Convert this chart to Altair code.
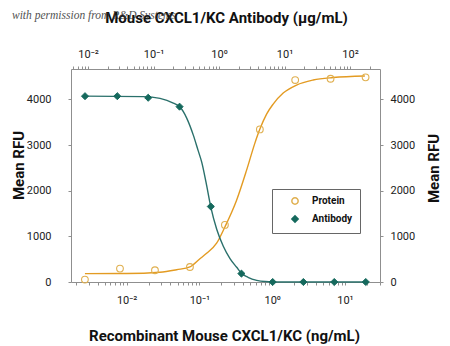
import altair as alt
import pandas as pd

# ---------------- data ----------------
series_names = ["Protein", "Antibody"]

# Recombinant Mouse CXCL1/KC, ng/mL (bottom axis)
protein_conc = [0.00267, 0.0081, 0.0245, 0.0741, 0.224, 0.677, 2.07, 6.34, 19.2]
protein_rfu = [53, 294, 257, 329, 1250, 3342, 4423, 4452, 4482]
protein_fit_conc = [0.002674, 0.01, 0.02867, 0.04862, 0.07406, 0.1016, 0.1256, 0.1723,
                    0.2240, 0.3243, 0.4451, 0.5786, 0.6776, 0.8377, 1.032, 1.416,
                    2.164, 3.658, 6.886, 18.77]
protein_fit_rfu = [184, 186, 213, 268, 329, 509, 629, 849, 1206, 1792, 2450, 3042,
                   3349, 3678, 3897, 4138, 4314, 4423, 4478, 4511]

# Mouse CXCL1/KC Antibody, ug/mL (top axis)
antibody_conc = [0.009, 0.028, 0.083, 0.25, 0.75, 2.2, 6.6, 19.4, 57.5, 174]
antibody_rfu = [4070, 4070, 4035, 3840, 1653, 184, 0, 0, 0, 0]
antibody_fit_conc = [0.009, 0.0699, 0.1257, 0.2006, 0.2538, 0.3212, 0.4052, 0.4779,
                     0.5444, 0.6331, 0.7468, 0.9223, 1.163, 1.472, 1.863, 2.222,
                     2.772, 3.763, 5.039, 8.54, 173.6]
antibody_fit_rfu = [4072, 4061, 4022, 3919, 3831, 3590, 3217, 2888, 2625, 2186, 1653,
                    1156, 783, 513, 322, 184, 103, 37, 11, 0, 0]

y_ticks = [0, 1000, 2000, 3000, 4000]
bottom_domain = [0.00172, 30.3]
top_domain = [0.0055, 287]
decades = [-3, -2, -1, 0, 1, 2]
minor_steps = [1, 2, 3, 4, 5, 6, 7, 8, 9]
superscripts = {-3: "10⁻³", -2: "10⁻²", -1: "10⁻¹", 0: "10⁰", 1: "10¹", 2: "10²"}
watermark = "with permission from R&D Systems"

# ---------------- styling ----------------
ORANGE_LINE = "#E39B22"
ORANGE_PT = "#E0B050"
GREEN_LINE = "#2A706B"
GREEN_PT = "#15695D"
AXIS_GREY = "#8f8f8f"
FONT = "Roboto"


def tick_values(domain):
    vals = []
    for d in decades:
        for m in minor_steps:
            v = m * 10 ** d
            if domain[0] <= v <= domain[1]:
                vals.append(v)
    return vals


label_expr = "abs(log(datum.value)/LN10 - round(log(datum.value)/LN10)) > 0.001 ? '' : " + \
    " : ".join(f"round(log(datum.value)/LN10) == {k} ? '{v}'" for k, v in superscripts.items()) + " : ''"

common_axis = dict(
    domainColor=AXIS_GREY, tickColor=AXIS_GREY, grid=False, labelFont=FONT,
    labelFontSize=11, labelColor="#222222", titleFont=FONT, titleFontWeight="bold",
    titleColor="#111111", labelOverlap=False, tickSize=3, labelFlush=False,
)

bottom_x = alt.X(
    "conc:Q",
    scale=alt.Scale(type="log", domain=bottom_domain, nice=False),
    axis=alt.Axis(orient="bottom", values=tick_values(bottom_domain), labelExpr=label_expr,
                  title="Recombinant Mouse CXCL1/KC (ng/mL)", titleFontSize=15,
                  titleX=153, titleY=53, titleBaseline="middle", titleAlign="center",
                  labelPadding=9, **common_axis),
)
bottom_x_noaxis = alt.X("conc:Q", scale=alt.Scale(type="log", domain=bottom_domain, nice=False), axis=None)

top_x = alt.X(
    "conc:Q",
    scale=alt.Scale(type="log", domain=top_domain, nice=False),
    axis=alt.Axis(orient="top", values=tick_values(top_domain), labelExpr=label_expr,
                  title="Mouse CXCL1/KC Antibody (µg/mL)", titleFontSize=15,
                  titleX=155, titleY=-52, titleBaseline="middle", titleAlign="center",
                  labelPadding=7, **common_axis),
)
top_x_noaxis = alt.X("conc:Q", scale=alt.Scale(type="log", domain=top_domain, nice=False), axis=None)

y_scale = alt.Scale(domain=[0, 4665], nice=False, zero=False)
left_y = alt.Y("rfu:Q", scale=y_scale,
               axis=alt.Axis(orient="left", values=y_ticks, format="d", title="Mean RFU",
                             titleFontSize=15, titleAngle=270, titleX=-53, titleY=96,
                             titleBaseline="middle", titleAlign="center", labelPadding=17,
                             **common_axis))
right_y = alt.Y("rfu:Q", scale=y_scale,
                axis=alt.Axis(orient="right", values=y_ticks, format="d", title="Mean RFU",
                              titleFontSize=15, titleAngle=270, titleX=53, titleY=99,
                              titleBaseline="middle", titleAlign="center", labelPadding=7,
                              **common_axis))
y_noaxis = alt.Y("rfu:Q", scale=y_scale, axis=None)

legend = alt.Legend(title=None, orient="none", legendX=201, legendY=120, strokeColor="#666666",
                    fillColor="white", padding=7, symbolOffset=11, labelOffset=12,
                    labelFont=FONT, labelFontSize=10, labelFontWeight="bold",
                    labelColor="#111111", rowPadding=4, symbolSize=40)
shape_enc = alt.Shape("series:N", scale=alt.Scale(domain=series_names, range=["circle", "diamond"]), legend=legend)
stroke_enc = alt.Stroke("series:N", scale=alt.Scale(domain=series_names, range=[ORANGE_PT, GREEN_PT]), legend=legend)
fill_enc = alt.Fill("series:N", scale=alt.Scale(domain=series_names, range=["transparent", GREEN_PT]), legend=legend)

protein_df = pd.DataFrame({"conc": protein_conc, "rfu": protein_rfu, "series": "Protein"})
protein_fit_df = pd.DataFrame({"conc": protein_fit_conc, "rfu": protein_fit_rfu})
antibody_df = pd.DataFrame({"conc": antibody_conc, "rfu": antibody_rfu, "series": "Antibody"})
antibody_fit_df = pd.DataFrame({"conc": antibody_fit_conc, "rfu": antibody_fit_rfu})

protein_curve = alt.Chart(protein_fit_df).mark_line(
    color=ORANGE_LINE, strokeWidth=1.4, interpolate="monotone"
).encode(x=bottom_x, y=left_y)

antibody_curve = alt.Chart(antibody_fit_df).mark_line(
    color=GREEN_LINE, strokeWidth=1.4, interpolate="monotone"
).encode(x=top_x, y=right_y)

protein_points = alt.Chart(protein_df).mark_point(
    filled=True, size=45, strokeWidth=1.1, opacity=1
).encode(x=bottom_x_noaxis, y=y_noaxis, shape=shape_enc, stroke=stroke_enc, fill=fill_enc)

antibody_points = alt.Chart(antibody_df).mark_point(
    filled=True, size=50, strokeWidth=1, opacity=1
).encode(x=top_x_noaxis, y=y_noaxis, shape=shape_enc, stroke=stroke_enc, fill=fill_enc)

wm = alt.Chart(pd.DataFrame({"t": [watermark]})).mark_text(
    font="Liberation Serif, DejaVu Serif, serif", fontStyle="italic", fontSize=11.5,
    color="#333333", align="left", baseline="middle", opacity=0.85
).encode(text="t:N", x=alt.value(-59), y=alt.value(-53))

chart = alt.layer(
    protein_curve, antibody_curve, protein_points, antibody_points, wm
).resolve_scale(
    x="independent", y="independent"
).properties(
    width=309, height=213,
    padding={"left": 71, "top": 69, "right": 70, "bottom": 64},
    autosize=alt.AutoSizeParams(type="none"),
    background="white",
).configure_view(stroke=None)

chart.save("out.html", embed_options={"renderer": "svg", "actions": False})
